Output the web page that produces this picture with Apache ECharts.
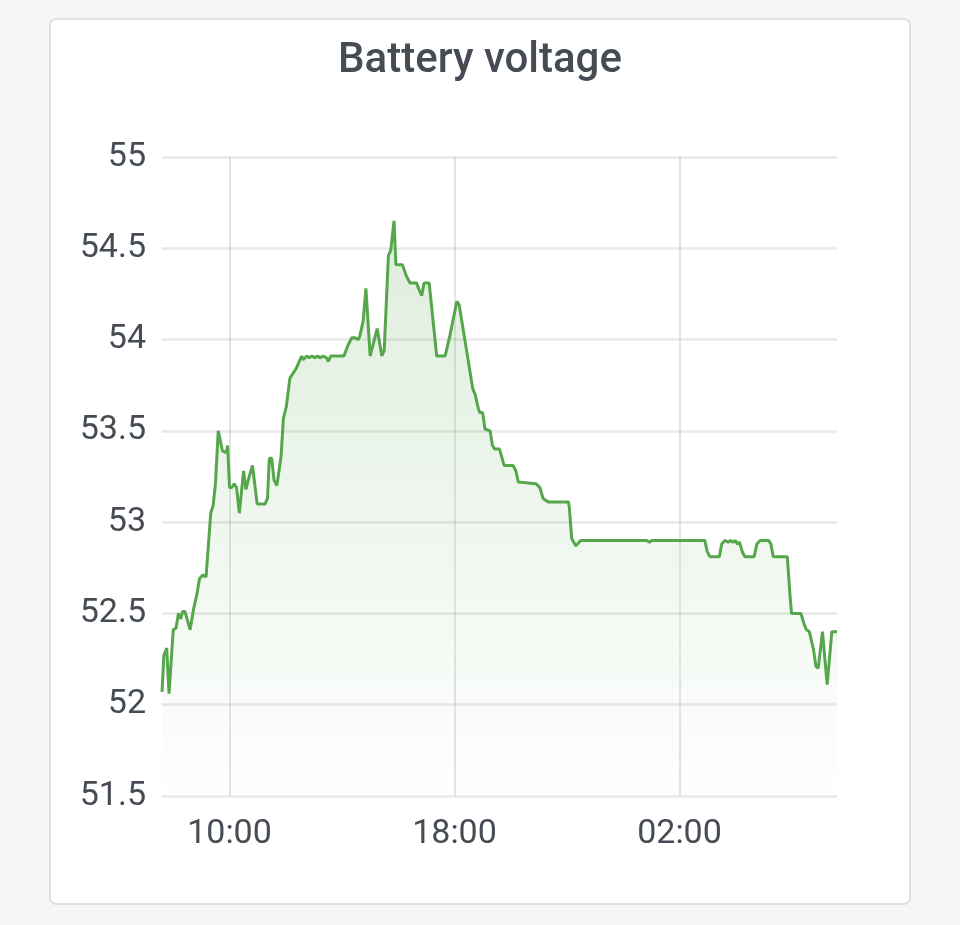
<!DOCTYPE html>
<html>
<head>
<meta charset="utf-8">
<script src="https://cdn.jsdelivr.net/npm/echarts@6/dist/echarts.min.js"></script>
<style>
  html, body { margin: 0; padding: 0; background: #f4f5f7; }
  #panel {
    position: absolute; left: 49px; top: 18px; width: 858px; height: 883px;
    background: #fff; border: 2px solid #dde1e6; border-radius: 7px;
  }
  #chart { position: absolute; left: 0; top: 0; width: 960px; height: 925px; }
</style>
</head>
<body>
<div id="panel"></div>
<div id="chart"></div>
<script>
// readings, one day from 07:36 to 07:36 next morning
const times = [
  '07:36', '07:40', '07:46', '07:51', '08:00', '08:06', '08:11', '08:16', '08:20', '08:25',
  '08:36', '08:43', '08:50', '08:56', '09:03', '09:10', '09:20', '09:25', '09:30', '09:36',
  '09:45', '09:53', '09:56', '10:00', '10:05', '10:10', '10:15', '10:21', '10:30', '10:35',
  '10:41', '10:49', '10:59', '11:16', '11:21', '11:25', '11:30', '11:35', '11:41', '11:50',
  '11:55', '12:01', '12:09', '12:22', '12:27', '12:34', '12:37', '12:45', '12:50', '12:56',
  '13:02', '13:08', '13:13', '13:20', '13:27', '13:31', '13:36', '13:50', '14:04', '14:13',
  '14:21', '14:28', '14:35', '14:38', '14:45', '14:51', '15:00', '15:15', '15:25', '15:30',
  '15:39', '15:44', '15:51', '15:55', '16:09', '16:17', '16:25', '16:39', '16:45', '16:50',
  '16:55', '17:06', '17:22', '17:40', '17:50', '18:05', '18:10', '18:39', '18:44', '18:51',
  '18:54', '19:00', '19:05', '19:16', '19:21', '19:26', '19:36', '19:46', '20:05', '20:11',
  '20:16', '20:54', '21:02', '21:09', '21:20', '22:03', '22:05', '22:10', '22:19', '22:29',
  '00:50', '00:56', '01:01', '02:54', '02:59', '03:05', '03:25', '03:30', '03:37', '03:44',
  '03:49', '03:54', '03:59', '04:03', '04:08', '04:15', '04:20', '04:39', '04:45', '04:52',
  '05:10', '05:15', '05:20', '05:50', '05:56', '05:59', '06:19', '06:26', '06:31', '06:37',
  '06:46', '06:51', '06:56', '07:05', '07:15', '07:25', '07:36'
];
const voltage = [
  52.07, 52.27, 52.31, 52.06, 52.41, 52.42, 52.50, 52.47, 52.51, 52.51,
  52.41, 52.52, 52.60, 52.69, 52.71, 52.70, 53.05, 53.09, 53.21, 53.50,
  53.39, 53.38, 53.42, 53.19, 53.19, 53.21, 53.19, 53.05, 53.28, 53.18,
  53.24, 53.31, 53.10, 53.10, 53.13, 53.35, 53.35, 53.23, 53.20, 53.36,
  53.57, 53.63, 53.79, 53.84, 53.87, 53.91, 53.89, 53.91, 53.90, 53.91,
  53.90, 53.91, 53.90, 53.91, 53.90, 53.88, 53.91, 53.91, 53.91, 53.97,
  54.01, 54.01, 54.00, 54.02, 54.10, 54.28, 53.91, 54.06, 53.91, 53.94,
  54.46, 54.49, 54.65, 54.41, 54.41, 54.35, 54.31, 54.31, 54.27, 54.24,
  54.31, 54.31, 53.91, 53.91, 54.02, 54.21, 54.19, 53.73, 53.70, 53.62,
  53.60, 53.60, 53.51, 53.50, 53.42, 53.40, 53.40, 53.31, 53.31, 53.28,
  53.22, 53.21, 53.19, 53.13, 53.11, 53.11, 53.08, 52.91, 52.87, 52.90,
  52.90, 52.89, 52.90, 52.90, 52.84, 52.81, 52.81, 52.88, 52.90, 52.89,
  52.90, 52.89, 52.90, 52.88, 52.89, 52.83, 52.81, 52.81, 52.88, 52.90,
  52.90, 52.88, 52.81, 52.81, 52.59, 52.50, 52.50, 52.44, 52.41, 52.40,
  52.30, 52.21, 52.20, 52.40, 52.11, 52.40, 52.40
];
const xTicks = ['10:00', '18:00', '02:00'];
const yTicks = [51.5, 52, 52.5, 53, 53.5, 54, 54.5, 55];

// clock strings -> minutes since midnight of the first day
function toMinutes(hm, dayOffset) {
  const p = hm.split(':');
  return dayOffset * 1440 + (+p[0]) * 60 + (+p[1]);
}
function pad(n) { return (n < 10 ? '0' : '') + n; }

const points = [];
let day = 0, prev = -1;
for (let i = 0; i < times.length; i++) {
  const m = toMinutes(times[i], 0);
  if (m < prev) day++;
  prev = m;
  points.push([toMinutes(times[i], day), voltage[i]]);
}
const tickMinutes = [toMinutes(xTicks[0], 0), toMinutes(xTicks[1], 0), toMinutes(xTicks[2], 1)];

const fontFamily = 'Roboto, "Noto Sans", sans-serif';
const textColor = '#464c54';
const lineColor = '#56a64b';

const chart = echarts.init(document.getElementById('chart'));
chart.setOption({
  animation: false,
  title: {
    text: 'Battery voltage',
    left: 'center',
    top: 35,
    textStyle: { fontFamily: fontFamily, fontSize: 42, fontWeight: 500, color: textColor }
  },
  grid: { left: 162, right: 123, top: 157, bottom: 129 },
  xAxis: {
    type: 'value',
    min: points[0][0],
    max: points[points.length - 1][0],
    axisLine: { show: false },
    axisTick: { show: false, customValues: tickMinutes },
    axisLabel: {
      customValues: tickMinutes,
      margin: 21,
      fontFamily: fontFamily,
      fontSize: 34,
      color: textColor,
      formatter: function (v) {
        const m = ((v % 1440) + 1440) % 1440;
        return pad(Math.floor(m / 60)) + ':' + pad(m % 60);
      }
    },
    splitLine: { show: true, lineStyle: { color: 'rgba(0,0,0,0.1)', width: 2 } }
  },
  yAxis: {
    type: 'value',
    min: yTicks[0],
    max: yTicks[yTicks.length - 1],
    interval: 0.5,
    axisLine: { show: false },
    axisTick: { show: false },
    axisLabel: { margin: 16, fontFamily: fontFamily, fontSize: 34, color: textColor },
    splitLine: { lineStyle: { color: 'rgba(0,0,0,0.09)', width: 2.5 } }
  },
  series: [{
    type: 'line',
    data: points,
    showSymbol: false,
    lineStyle: { color: lineColor, width: 3 },
    areaStyle: {
      color: new echarts.graphic.LinearGradient(0, 0, 0, 1, [
        { offset: 0, color: 'rgba(86,166,75,0.27)' },
        { offset: 1, color: 'rgba(86,166,75,0.01)' }
      ])
    }
  }]
});
</script>
</body>
</html>
